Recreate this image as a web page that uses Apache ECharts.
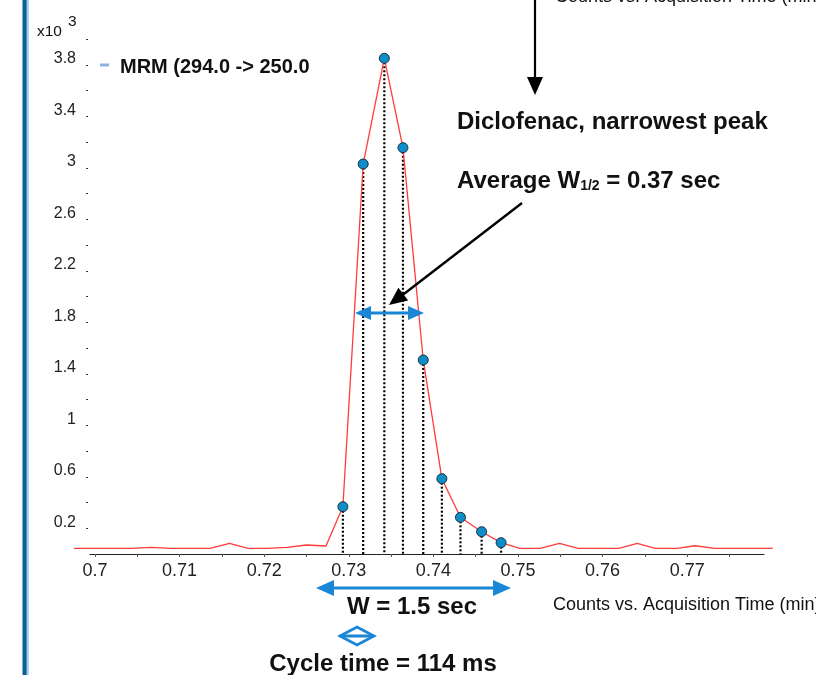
<!DOCTYPE html>
<html>
<head>
<meta charset="utf-8">
<script src="https://cdn.jsdelivr.net/npm/echarts@6/dist/echarts.min.js"></script>
<style>
  html, body { margin: 0; padding: 0; background: #fff; }
  #chart { width: 816px; height: 675px; }
</style>
</head>
<body>
<div id="chart"></div>
<script>
// acquisition times (min) and counts (x10^3)
var leftTimes  = [0.6975, 0.6998, 0.7021, 0.7044, 0.7066, 0.7090, 0.7113, 0.7136, 0.7159, 0.7181, 0.7203, 0.7227, 0.7250, 0.7273];
var leftCounts = [0.044, 0.044, 0.044, 0.044, 0.052, 0.044, 0.044, 0.044, 0.083, 0.044, 0.044, 0.052, 0.070, 0.062];
// the sampled points across the peak (drawn with markers)
var peakTimes  = [0.7293, 0.7317, 0.7342, 0.7364, 0.7388, 0.7410, 0.7432, 0.7457, 0.7480];
var peakCounts = [0.367, 3.029, 3.850, 3.156, 1.507, 0.585, 0.285, 0.173, 0.088];
var rightTimes  = [0.7502, 0.7526, 0.7549, 0.7571, 0.7595, 0.7619, 0.7641, 0.7662, 0.7688, 0.7709, 0.7733, 0.7755, 0.7778, 0.7801];
var rightCounts = [0.044, 0.044, 0.083, 0.044, 0.044, 0.044, 0.083, 0.044, 0.044, 0.064, 0.044, 0.044, 0.044, 0.044];

// axis ticks and labels
var xTickValues  = [0.7, 0.705, 0.71, 0.715, 0.72, 0.725, 0.73, 0.735, 0.74, 0.745, 0.75, 0.755, 0.76, 0.765, 0.77, 0.775];
var xLabelValues = [0.7, 0.71, 0.72, 0.73, 0.74, 0.75, 0.76, 0.77];
var yTickValues  = [0.2, 0.4, 0.6, 0.8, 1, 1.2, 1.4, 1.6, 1.8, 2, 2.2, 2.4, 2.6, 2.8, 3, 3.2, 3.4, 3.6, 3.8, 4];
var yLabelValues = [0.2, 0.6, 1, 1.4, 1.8, 2.2, 2.6, 3, 3.4, 3.8];

var FONT = "'Liberation Sans', Arial, sans-serif";
var BLUE = '#1a86d6';

var allTimes = leftTimes.concat(peakTimes, rightTimes);
var allCounts = leftCounts.concat(peakCounts, rightCounts);
var lineData = [];
for (var i = 0; i < allTimes.length; i++) lineData.push([allTimes[i], allCounts[i]]);
var peakData = [];
for (var j = 0; j < peakTimes.length; j++) peakData.push([peakTimes[j], peakCounts[j]]);

// helper to measure text widths for the subscript label
var mctx = document.createElement('canvas').getContext('2d');
function textWidth(str, font) { mctx.font = font; return mctx.measureText(str).width; }

function arrowHead(x1, y1, x2, y2, len, half, color) {
  var dx = x2 - x1, dy = y2 - y1, d = Math.sqrt(dx * dx + dy * dy);
  var ux = dx / d, uy = dy / d;
  var bx = x2 - ux * len, by = y2 - uy * len;
  return { type: 'polygon', shape: { points: [[x2, y2], [bx - uy * half, by + ux * half], [bx + uy * half, by - ux * half]] },
           style: { fill: color }, z: 20 };
}
function shaft(x1, y1, x2, y2, color, w) {
  return { type: 'line', shape: { x1: x1, y1: y1, x2: x2, y2: y2 }, style: { stroke: color, lineWidth: w }, z: 20 };
}
function label(x, y, str, size, bold, align) {
  return { type: 'text', x: x, y: y, z: 20,
    style: { text: str, fontSize: size, fontWeight: bold ? 'bold' : 'normal', fontFamily: FONT, fill: '#111',
             align: align || 'left', verticalAlign: 'middle' } };
}

var g = [];
// left border stripe
g.push({ type: 'rect', shape: { x: 22.5, y: 0, width: 4.3, height: 675 }, style: { fill: '#0b5f95' } });
g.push({ type: 'rect', shape: { x: 26.8, y: 0, width: 2, height: 675 }, style: { fill: '#a3cde9' } });

// y-axis multiplier
g.push(label(37, 32, 'x10', 15.5, false));
g.push(label(68, 22, '3', 15.5, false));

// legend
g.push({ type: 'rect', shape: { x: 100, y: 63.5, width: 9, height: 3 }, style: { fill: '#8ab2e0' } });
g.push(label(120, 67, 'MRM (294.0 -> 250.0', 20, true));

// axis title, repeated at top (cut off) and beside the axis
g.push(label(555, -2.5, 'Counts vs. Acquisition Time (min)', 18, false));
g.push(label(553, 605, 'Counts vs. Acquisition Time (min)', 18, false));

// annotations
g.push(label(457, 122, 'Diclofenac, narrowest peak', 24, true));
var bigBold = 'bold 24px ' + FONT, subBold = 'bold 14px ' + FONT;
var wAvg = textWidth('Average W', bigBold);
var wSub = textWidth('1/2', subBold);
g.push(label(457, 181, 'Average W', 24, true));
g.push(label(457 + wAvg, 186, '1/2', 14, true));
g.push(label(457 + wAvg + wSub, 181, ' = 0.37 sec', 24, true));

g.push(label(412, 607, 'W = 1.5 sec', 24, true, 'center'));
g.push(label(383, 664, 'Cycle time = 114 ms', 24, true, 'center'));

// black arrows
g.push(shaft(535, 0, 535, 82, '#000', 2.2));
g.push(arrowHead(535, 0, 535, 95, 18, 8, '#000'));
g.push(shaft(522, 203, 400, 297, '#000', 2.4));
g.push(arrowHead(522, 203, 389, 305, 18, 8, '#000'));

// half-height width double arrow
g.push(shaft(366, 313, 414, 313, BLUE, 3));
g.push(arrowHead(424, 313, 355, 313, 16, 7, BLUE));
g.push(arrowHead(355, 313, 424, 313, 16, 7, BLUE));

// full width double arrow
g.push(shaft(328, 588, 500, 588, BLUE, 3));
g.push(arrowHead(511, 588, 316, 588, 18, 8, BLUE));
g.push(arrowHead(316, 588, 511, 588, 18, 8, BLUE));

// cycle time diamond
g.push({ type: 'polygon', shape: { points: [[340, 636], [357, 627], [374, 636], [357, 645]] },
         style: { fill: 'none', stroke: BLUE, lineWidth: 2.8 }, z: 20 });
g.push(shaft(340, 636, 374, 636, BLUE, 2.8));

var xSpan0 = [0.697518, 0.780106];   // data grid, trace runs a little past the axis
var xSpan1 = [0.69941, 0.77908];     // visible axis

var chart = echarts.init(document.getElementById('chart'));
chart.setOption({
  animation: false,
  backgroundColor: '#fff',
  grid: [
    { left: 74, right: 43.3, top: 39, bottom: 121 },
    { left: 90, right: 52, top: 39, bottom: 121 }
  ],
  xAxis: [
    { type: 'value', gridIndex: 0, min: xSpan0[0], max: xSpan0[1], show: false, splitLine: { show: false } },
    {
      type: 'value', gridIndex: 1, min: xSpan1[0], max: xSpan1[1],
      splitLine: { show: false },
      axisLine: { lineStyle: { color: '#222', width: 1.2 } },
      axisTick: { customValues: xTickValues, length: 3, lineStyle: { color: '#555' } },
      axisLabel: { customValues: xLabelValues, fontSize: 18, color: '#222', fontFamily: FONT, margin: 8,
        formatter: function (v) { return String(+v.toFixed(3)); } }
    }
  ],
  yAxis: [
    { type: 'value', gridIndex: 0, min: 0, max: 4, show: false, splitLine: { show: false } },
    {
      type: 'value', gridIndex: 1, min: 0, max: 4,
      offset: 2,
      splitLine: { show: false },
      axisLine: { show: false },
      axisTick: { show: true, customValues: yTickValues, length: 2, lineStyle: { color: '#333' } },
      axisLabel: { customValues: yLabelValues, fontSize: 16, color: '#222', fontFamily: FONT, margin: 12,
        verticalAlign: 'bottom', lineHeight: 12,
        formatter: function (v) { return String(+v.toFixed(2)); } }
    }
  ],
  series: [
    {
      type: 'custom', z: 2, xAxisIndex: 0, yAxisIndex: 0,
      data: peakData,
      renderItem: function (params, api) {
        var top = api.coord([api.value(0), api.value(1)]);
        var base = api.coord([api.value(0), 0]);
        return { type: 'line', shape: { x1: top[0], y1: top[1], x2: base[0], y2: base[1] },
                 style: { stroke: '#000', lineWidth: 2.2, lineDash: [2, 2] } };
      }
    },
    {
      type: 'line', z: 3, xAxisIndex: 0, yAxisIndex: 0, showSymbol: false,
      data: lineData,
      lineStyle: { color: '#ff3b3b', width: 1.3 }
    },
    {
      type: 'scatter', z: 5, xAxisIndex: 0, yAxisIndex: 0,
      data: peakData,
      symbolSize: 10,
      itemStyle: { color: '#0e8ec9', borderColor: '#1b2f3d', borderWidth: 1, opacity: 1 }
    }
  ],
  graphic: g
});
</script>
</body>
</html>
